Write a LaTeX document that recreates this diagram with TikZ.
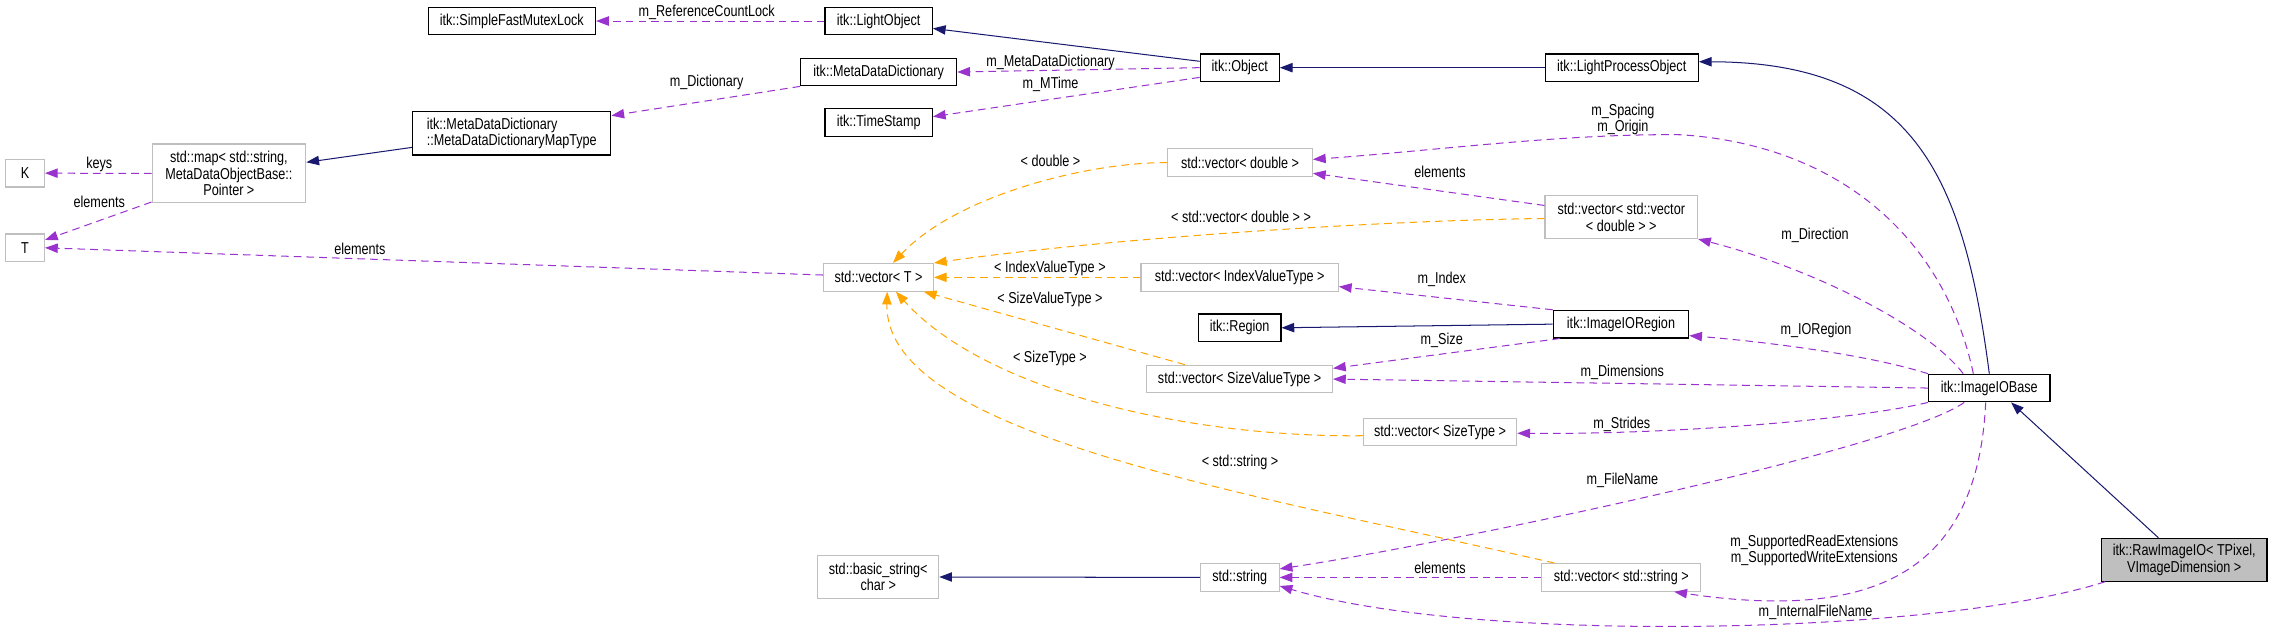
\documentclass[tikz,border=0pt]{standalone}
\usepackage{fontspec}
\setmainfont{Liberation Sans}[FakeStretch=0.8]
\usetikzlibrary{arrows.meta,calc}
\definecolor{inhblue}{HTML}{191970}
\definecolor{mempurple}{HTML}{9A32CD}
\definecolor{tplorange}{HTML}{FFA500}
\definecolor{extgray}{HTML}{BFBFBF}

\begin{document}
\begin{tikzpicture}[x=0.03cm,y=-0.03cm]
\tikzset{box/.style={line width=0.7pt,fill=white,inner sep=0pt,align=center,font=\fontsize{9.3}{9.8}\selectfont,minimum height=0.57cm},
  cls/.style={box,draw=black}, ext/.style={box,draw=extgray},
  bw/.style={minimum width=#1*0.03cm}, tall/.style={minimum height=#1*0.03cm},
  lbl/.style={inner sep=0pt,align=center,font=\fontsize{9.3}{9.8}\selectfont},
  inh/.style={draw=inhblue,line width=0.6pt,-{Triangle[length=7.5pt,width=5.5pt]}},
  mem/.style={draw=mempurple,line width=0.6pt,dash pattern=on 4.5pt off 3pt,-{Triangle[length=7.5pt,width=5.5pt]}},
  tpl/.style={mem,draw=tplorange}}
\useasboundingbox (0,0) rectangle (1568,438);
% classes
\node[cls,bw=115.5] (sfml) at (353.2,14.5) {itk::SimpleFastMutexLock};
\node[cls,bw=74] (lobj) at (606.4,14.5) {itk::LightObject};
\node[cls,bw=107.6] (mdd) at (606.4,49.7) {itk::MetaDataDictionary};
\node[cls,bw=74] (tstamp) at (606.4,84.6) {itk::TimeStamp};
\node[cls,bw=54.5] (obj) at (855.6,46.7) {itk::Object};
\node[cls,bw=105.7] (lpo) at (1119.2,46.7) {itk::LightProcessObject};
\node[cls,bw=136.7,tall=30,align=left] (maptype) at (353.2,92) {itk::MetaDataDictionary\\::MetaDataDictionaryMapType};
\node[ext,bw=106,tall=40.6] (stdmap) at (158,119.7) {std::map< std::string,\\MetaDataObjectBase::\\Pointer >};
\node[ext,bw=26.7] (K) at (17.3,119.5) {K};
\node[ext,bw=26.7] (T) at (17.3,171) {T};
\node[ext,bw=99.8] (vd) at (855.8,112.2) {std::vector< double >};
\node[ext,bw=105.2,tall=29.5] (vvd) at (1118.9,149.8) {std::vector< std::vector\\< double > >};
\node[ext,bw=75.7] (vecT) at (606.3,191.4) {std::vector< T >};
\node[ext,bw=136.2] (vIdx) at (855.5,191.4) {std::vector< IndexValueType >};
\node[cls,bw=57] (region) at (855.5,226.2) {itk::Region};
\node[cls,bw=93.4] (ioreg) at (1118.7,223.7) {itk::ImageIORegion};
\node[ext,bw=128.1] (vSVT) at (855.5,261.6) {std::vector< SizeValueType >};
\node[cls,bw=83.8] (iobase) at (1372.9,267.8) {itk::ImageIOBase};
\node[ext,bw=105.8] (vST) at (993.8,298.2) {std::vector< SizeType >};
\node[ext,bw=83.4,tall=29.4] (bstr) at (606.1,398.2) {std::basic\_string<\\char >};
\node[ext,bw=54.3] (str) at (855.6,398.5) {std::string};
\node[ext,bw=109.7] (vStr) at (1118.9,398.5) {std::vector< std::string >};
\node[cls,bw=114.3,tall=29.5,fill=extgray] (raw) at (1507.4,386.3) {itk::RawImageIO< TPixel,\\VImageDimension >};

% inheritance
\draw[inh] ($(obj.west)+(0,-4.4)$) -- ($(lobj.east)+(0,5.1)$);
\draw[inh] (lpo.west) -- (obj.east);
\draw[inh] ($(maptype.west)+(0,9.7)$) -- ($(stdmap.east)+(0,-7.7)$);
\draw[inh] (ioreg.west) -- (region.east);
\draw[inh] (str.west) -- (bstr.east);
\draw[inh] (iobase.north) .. controls (1355,120) and (1320,43) .. ($(lpo.east)+(0,-4.1)$);
\draw[inh] ($(raw.north)+(-17.8,0)$) -- ($(iobase.south)+(15,0)$);

% members
\draw[mem] (lobj.west) -- (sfml.east);
\draw[mem] (obj.west) -- (mdd.east);
\draw[mem] ($(obj.west)+(0,6.7)$) -- ($(tstamp.east)+(0,-4.1)$);
\draw[mem] (mdd.south west) -- ($(maptype.east)+(0,-12.2)$);
\draw[mem] (stdmap.west) -- (K.east);
\draw[mem] ($(stdmap.south west)+(0,-1)$) -- ($(T.east)+(0,-5.4)$);
\draw[mem] ($(vecT.west)+(0,-1.6)$) -- (T.east);
\draw[mem] ($(vvd.west)+(0,-8)$) -- ($(vd.east)+(0,7.4)$);
\draw[mem] ($(iobase.north)+(-11,0)$) .. controls (1342,165) and (1270,100) .. (1160,93) .. controls (1080,92) and (990,104) .. ($(vd.east)+(0,-2.2)$);
\draw[mem] ($(iobase.north)+(-18,0)$) .. controls (1330,225) and (1250,185) .. (vvd.south east);
\draw[mem] (iobase.north west) .. controls (1290,245) and (1220,236) .. ($(ioreg.south east)+(0,-2)$);
\draw[mem] (ioreg.north west) -- ($(vIdx.east)+(0,6.4)$);
\draw[mem] ($(ioreg.south west)+(5,0)$) -- ($(vSVT.north east)+(0,2.5)$);
\draw[mem] (iobase.west) -- (vSVT.east);
\draw[mem] (iobase.south west) .. controls (1280,290) and (1150,300) .. ($(vST.east)+(0,0.8)$);
\draw[mem] ($(iobase.south)+(-17.3,0)$) .. controls (1310,310) and (1000,375) .. ($(str.east)+(0,-5.9)$);
\draw[mem] ($(iobase.south)+(-2.5,0)$) .. controls (1365,390) and (1300,430) .. ($(vStr.south east)+(-18.7,0)$);
\draw[mem] ($(raw.south west)+(3,0)$) .. controls (1340,438) and (1020,445) .. ($(str.east)+(0,5.9)$);
\draw[mem] (vStr.west) -- (str.east);

% template instances
\draw[tpl] (vd.west) .. controls (750,112) and (660,135) .. ($(vecT.north)+(10,0)$);
\draw[tpl] ($(vvd.west)+(0,1)$) .. controls (950,152) and (760,165) .. (vecT.north east);
\draw[tpl] (vIdx.west) -- (vecT.east);
\draw[tpl] ($(vSVT.north)+(-37.7,0)$) -- ($(vecT.south east)+(-7,0)$);
\draw[tpl] ($(vST.west)+(0,2.5)$) .. controls (820,302) and (680,270) .. ($(vecT.south)+(12,0)$);
\draw[tpl] ($(vStr.north west)+(9.2,0)$) .. controls (860,340) and (610,300) .. ($(vecT.south)+(6,0)$);

% edge labels
\node[lbl] (lRef) at (487.7,8.7) {m\_ReferenceCountLock};
\node[lbl] (lDict) at (487.7,57) {m\_Dictionary};
\node[lbl] (lMdd) at (725,43.3) {m\_MetaDataDictionary};
\node[lbl] (lMTime) at (725,58.2) {m\_MTime};
\node[lbl] (lKeys) at (68.5,113.4) {keys};
\node[lbl] (lElMap) at (68.5,139.6) {elements};
\node[lbl] (lElT) at (248.4,171.4) {elements};
\node[lbl] (lDbl) at (725,110.9) {< double >};
\node[lbl] (lElVd) at (993.8,118.5) {elements};
\node[lbl] (lSpacing) at (1120,82.5) {m\_Spacing\\m\_Origin};
\node[lbl] (lVvd) at (856.5,149.5) {< std::vector< double > >};
\node[lbl] (lDir) at (1252.6,162.6) {m\_Direction};
\node[lbl] (lIdxT) at (724.6,185.2) {< IndexValueType >};
\node[lbl] (lIndex) at (995,192.8) {m\_Index};
\node[lbl] (lSVT) at (724.6,206.6) {< SizeValueType >};
\node[lbl] (lSize) at (995,234.6) {m\_Size};
\node[lbl] (lIOReg) at (1253.3,228.2) {m\_IORegion};
\node[lbl] (lST) at (724.6,247.3) {< SizeType >};
\node[lbl] (lDims) at (1119.6,257.2) {m\_Dimensions};
\node[lbl] (lStrides) at (1119.2,292.8) {m\_Strides};
\node[lbl] (lStrT) at (855.8,319.3) {< std::string >};
\node[lbl] (lFile) at (1119.6,331.5) {m\_FileName};
\node[lbl] (lExt) at (1252.1,379.8) {m\_SupportedReadExtensions\\m\_SupportedWriteExtensions};
\node[lbl] (lElStr) at (993.8,392.2) {elements};
\node[lbl] (lIntFile) at (1253,422.6) {m\_InternalFileName};
\end{tikzpicture}
\end{document}
